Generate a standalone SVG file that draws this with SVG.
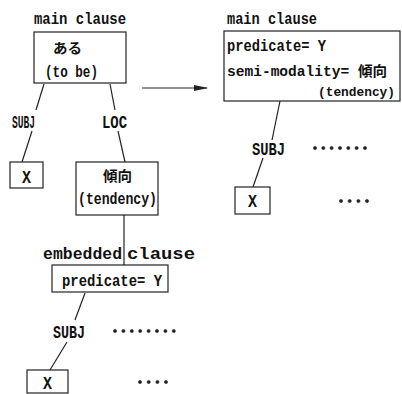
<svg xmlns="http://www.w3.org/2000/svg" width="402" height="394" viewBox="0 0 402 394">
<style>
.t{font-family:"Liberation Mono","Noto Sans CJK JP",monospace;font-size:16px;font-weight:bold;fill:#111}
.c{font-family:"Liberation Mono",monospace;font-size:18px;font-weight:bold;fill:#111}
.j{font-family:"Noto Sans CJK JP",sans-serif;font-size:14px;font-weight:bold;fill:#111}
.b{fill:#fff;stroke:#222;stroke-width:1.2}
.l{stroke:#222;stroke-width:1.2;fill:none}
.d{fill:#222;stroke:#222;stroke-width:0.6}
</style>
<defs>
<marker id="ah" markerWidth="14" markerHeight="8" refX="13" refY="4" orient="auto" markerUnits="userSpaceOnUse">
<path d="M0,1 L14,4 L0,7 Z" fill="#222"/>
</marker>
</defs>
<rect width="402" height="394" fill="#fff"/>
<g id="connectors">
<line class="l" x1="44" y1="84" x2="36" y2="110"/>
<line class="l" x1="110" y1="84" x2="115" y2="110"/>
<line class="l" x1="32" y1="131" x2="22" y2="162"/>
<line class="l" x1="118" y1="131" x2="125" y2="162"/>
<line class="l" x1="124" y1="215" x2="124" y2="265"/>
<line class="l" x1="85" y1="293" x2="75" y2="320"/>
<line class="l" x1="67" y1="342" x2="50" y2="370"/>
<line class="l" x1="280" y1="101" x2="272" y2="140"/>
<line class="l" x1="263" y1="158" x2="253" y2="187"/>
<line class="l" x1="142" y1="88" x2="207" y2="88" marker-end="url(#ah)"/>
</g>
<g id="left-main">
<text class="t" x="34" y="24" textLength="92" lengthAdjust="spacingAndGlyphs">main clause</text>
<rect class="b" x="34" y="32" width="92" height="51"/>
<text class="j" x="53" y="53" textLength="29" lengthAdjust="spacingAndGlyphs">ある</text>
<text class="t" x="45" y="77" textLength="53" lengthAdjust="spacingAndGlyphs">(to be)</text>
</g>
<g id="left-subj-label"><text class="c" x="12" y="128" textLength="23" lengthAdjust="spacingAndGlyphs">SUBJ</text></g>
<g id="left-loc-label"><text class="c" x="102" y="128" textLength="25" lengthAdjust="spacingAndGlyphs">LOC</text></g>
<g id="left-x1">
<rect class="b" x="10" y="162" width="33" height="26"/>
<text class="c" x="26.5" y="183" text-anchor="middle" textLength="9" lengthAdjust="spacingAndGlyphs">X</text>
</g>
<g id="left-tendency">
<rect class="b" x="76" y="162" width="82" height="53"/>
<text class="j" x="103" y="181" textLength="29" lengthAdjust="spacingAndGlyphs">傾向</text>
<text class="t" x="78" y="204" textLength="79" lengthAdjust="spacingAndGlyphs">(tendency)</text>
</g>
<g id="embedded-label">
<text class="t" x="43" y="259" textLength="79" lengthAdjust="spacingAndGlyphs">embedded</text>
<text class="t" x="127" y="259" textLength="68" lengthAdjust="spacingAndGlyphs">clause</text>
</g>
<g id="left-predicate">
<rect class="b" x="52" y="265" width="116" height="27"/>
<text class="t" x="62" y="286" textLength="100" lengthAdjust="spacingAndGlyphs">predicate= Y</text>
</g>
<g id="left-subj2-label"><text class="c" x="53" y="338" textLength="32" lengthAdjust="spacingAndGlyphs">SUBJ</text></g>
<g id="left-dots1">
<circle class="d" cx="115" cy="331" r="1.6"/><circle class="d" cx="123.4" cy="331" r="1.6"/><circle class="d" cx="131.8" cy="331" r="1.6"/><circle class="d" cx="140.2" cy="331" r="1.6"/><circle class="d" cx="148.6" cy="331" r="1.6"/><circle class="d" cx="157" cy="331" r="1.6"/><circle class="d" cx="165.4" cy="331" r="1.6"/><circle class="d" cx="173.8" cy="331" r="1.6"/>
</g>
<g id="left-x2">
<rect class="b" x="27" y="370" width="41" height="23"/>
<text class="c" x="47.5" y="389" text-anchor="middle" textLength="9" lengthAdjust="spacingAndGlyphs">X</text>
</g>
<g id="left-dots2">
<circle class="d" cx="140" cy="382" r="1.6"/><circle class="d" cx="148.7" cy="382" r="1.6"/><circle class="d" cx="157.4" cy="382" r="1.6"/><circle class="d" cx="166" cy="382" r="1.6"/>
</g>
<g id="right-main">
<text class="t" x="227" y="24" textLength="90" lengthAdjust="spacingAndGlyphs">main clause</text>
<rect class="b" x="224" y="31" width="176" height="70"/>
<text class="t" x="227" y="51" textLength="99" lengthAdjust="spacingAndGlyphs">predicate= Y</text>
<text class="t" x="227" y="76" style="font-size:14px" textLength="160" lengthAdjust="spacingAndGlyphs">semi-modality= 傾向</text>
<text class="t" x="318" y="96" style="font-size:13.5px" textLength="77" lengthAdjust="spacingAndGlyphs">(tendency)</text>
</g>
<g id="right-subj-label"><text class="c" x="252" y="155" textLength="33" lengthAdjust="spacingAndGlyphs">SUBJ</text></g>
<g id="right-dots1">
<circle class="d" cx="315" cy="148" r="1.6"/><circle class="d" cx="323.3" cy="148" r="1.6"/><circle class="d" cx="331.6" cy="148" r="1.6"/><circle class="d" cx="340" cy="148" r="1.6"/><circle class="d" cx="348.3" cy="148" r="1.6"/><circle class="d" cx="356.6" cy="148" r="1.6"/><circle class="d" cx="365" cy="148" r="1.6"/>
</g>
<g id="right-x">
<rect class="b" x="235" y="187" width="35" height="27"/>
<text class="c" x="252.5" y="207" text-anchor="middle" textLength="9" lengthAdjust="spacingAndGlyphs">X</text>
</g>
<g id="right-dots2">
<circle class="d" cx="341" cy="201" r="1.6"/><circle class="d" cx="349.7" cy="201" r="1.6"/><circle class="d" cx="358.4" cy="201" r="1.6"/><circle class="d" cx="367" cy="201" r="1.6"/>
</g>
</svg>
